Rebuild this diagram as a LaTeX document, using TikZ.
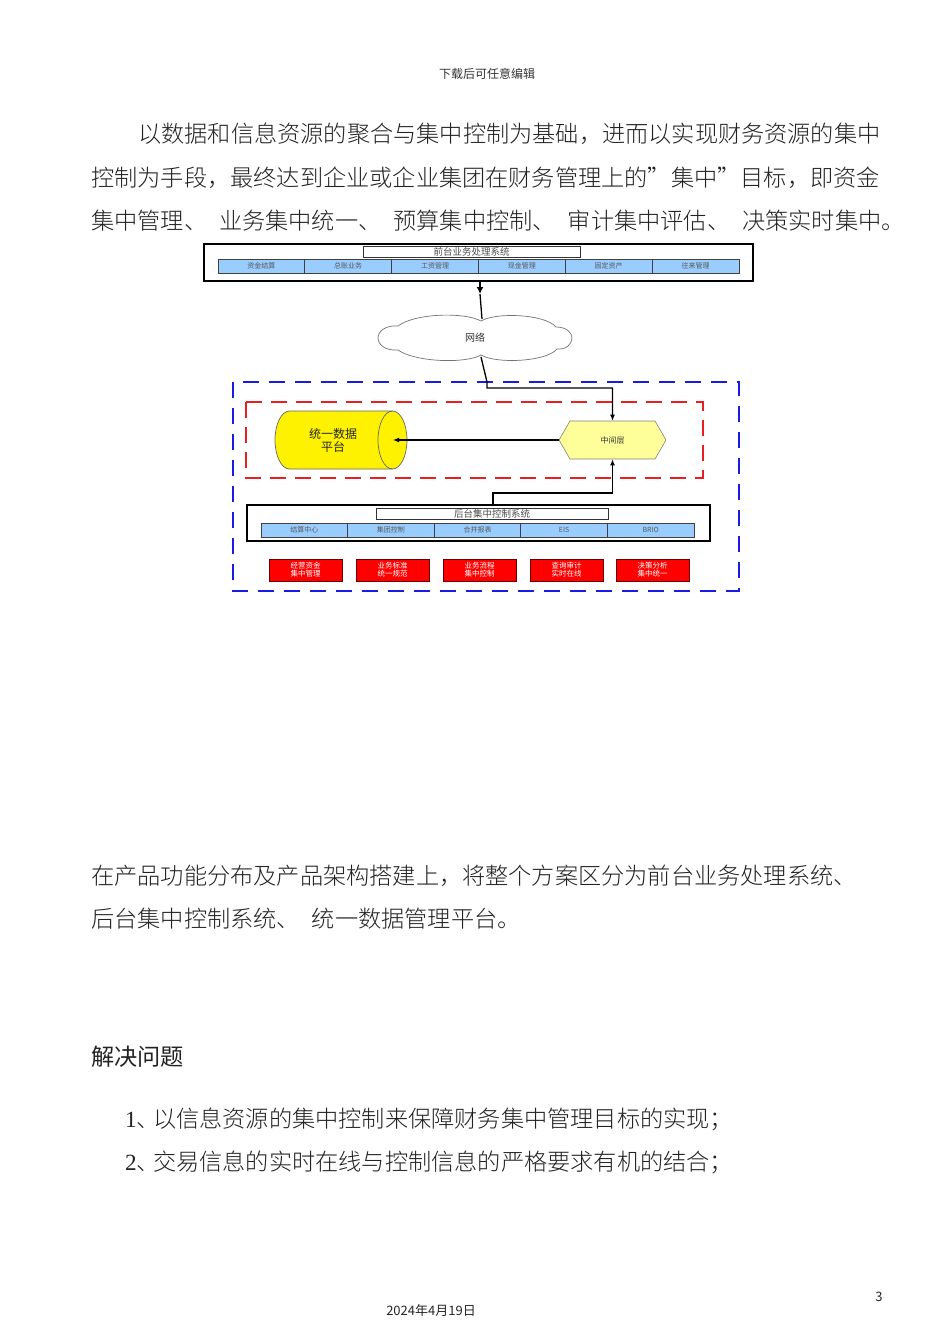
\documentclass[tikz,border=0pt]{standalone}
\usepackage{fontspec}
\setmainfont{Noto Sans CJK SC}
\newfontfamily\lightfont{Noto Sans CJK SC Light}
\newfontfamily\serifnum{Liberation Serif}
\usetikzlibrary{shapes.geometric,shapes.symbols,shapes.misc,arrows.meta}
\definecolor{cellblue}{HTML}{99CCFF}
\definecolor{hexfill}{HTML}{FFFF99}
\definecolor{bodytext}{HTML}{222222}
\definecolor{dashblue}{HTML}{1A1AE6}
\definecolor{dashred}{HTML}{E62020}
\begin{document}
\begin{tikzpicture}[x=1pt,y=-1pt,
  body/.style={anchor=west,inner sep=0,text=bodytext,font=\lightfont\fontsize{23.2}{23.2}\selectfont},
  cell/.style={draw=black!75,fill=cellblue,line width=0.7pt,minimum height=14pt,inner sep=0,text=black!65,font=\fontsize{7}{7}\selectfont},
  titlebox/.style={draw=black!80,fill=white,line width=0.6pt,minimum height=11pt,inner sep=0,text=black!70,font=\fontsize{9.5}{9.5}\selectfont},
  sysbox/.style={draw=black,line width=1.5pt,inner sep=0},
  redbox/.style={draw=black!60!red,fill=red,line width=0.6pt,minimum width=73pt,minimum height=22pt,inner sep=0,text=white,align=center,font=\fontsize{7.5}{8}\selectfont},
  conn/.style={draw=black,line width=1.3pt,-{Latex[length=6pt,width=5pt]}},
  plain/.style={draw=black,line width=1.3pt}
]
\useasboundingbox[fill=white] (0,0) rectangle (950,1344);

% header / footer
\node[inner sep=0,text=black!80,font=\fontsize{12}{12}\selectfont] (hdr) at (487,74) {下载后可任意编辑};
\node[inner sep=0,text=black!85,font=\fontsize{13}{13}\selectfont] (ftr) at (431,1311) {2024年4月19日};
\node[inner sep=0,text=black!85,font=\fontsize{13}{13}\selectfont] (pg) at (879,1297) {3};

% paragraph 1
\node[body] (p1) at (138,134) {以数据和信息资源的聚合与集中控制为基础，进而以实现财务资源的集中};
\node[body] (p2) at (91,178) {控制为手段，最终达到企业或企业集团在财务管理上的”集中”目标，即资金};
\node[body] (p3) at (91,221) {集中管理、\hspace{12pt}业务集中统一、\hspace{12pt}预算集中控制、\hspace{12pt}审计集中评估、\hspace{12pt}决策实时集中。};

% front system
\node[sysbox,minimum width=549pt,minimum height=37pt] (front) at (478.5,262.5) {};
\node[titlebox,minimum width=217pt] (ftitle) at (471.5,251.5) {前台业务处理系统};
\foreach \i/\t in {1/资金结算,2/总账业务,3/工资管理,4/现金管理,5/固定资产,6/往来管理}{
  \node[cell,minimum width=86.8pt] (f\i) at ({218+(\i-0.5)*86.83},266) {\t};
}

% network cloud
\node[inner sep=0,minimum width=193pt,minimum height=40pt] (cloud) at (475,338) {};
\draw[black!55,line width=0.7pt,fill=white]
  (378,338) .. controls (378,331) and (386,325) .. (398,326)
  .. controls (415,313) and (465,312) .. (481,321)
  .. controls (496,312) and (545,314) .. (556,327)
  .. controls (567,327) and (572,333) .. (572,338)
  .. controls (572,344) and (566,350) .. (557,349)
  .. controls (546,362) and (496,364) .. (481,355)
  .. controls (465,364) and (415,362) .. (398,350)
  .. controls (386,351) and (378,345) .. (378,338) -- cycle;
\node[inner sep=0,font=\fontsize{10}{10}\selectfont,text=black!80] (cloudlabel) at (cloud.center) {网络};
\coordinate (netin) at (480,294);
\coordinate (cloudtop) at (482,319);
\coordinate (cloudbot) at (481,357);
\draw[black,line width=2pt,-{Latex[length=7pt,width=7pt]}] (front.south -| netin) -- (netin);
\draw[plain] (netin) -- (cloudtop);

% dashed frames
\draw[dashblue,line width=1.6pt,dash pattern=on 16pt off 10pt] (233,382) rectangle (739,591);
\draw[dashred,line width=1.6pt,dash pattern=on 16pt off 9pt] (246,402) rectangle (703,478);

% unified data platform (horizontal cylinder)
\node[inner sep=0,minimum width=132pt,minimum height=58pt] (cyl) at (341,440) {};
\draw[black!60,fill=yellow,line width=0.7pt]
  (289.5,411) -- (392.5,411) arc[start angle=-90,end angle=90,x radius=14.5,y radius=29]
  -- (289.5,469) arc[start angle=90,end angle=270,x radius=14.5,y radius=29] -- cycle;
\draw[black!60,line width=0.7pt]
  (392.5,411) arc[start angle=270,end angle=90,x radius=14.5,y radius=29];
\node[inner sep=0,align=center,text=black!85,font=\fontsize{12}{13}\selectfont] (cyltext) at (333,440) {统一数据\\平台};
% middle layer
\node[signal,signal to=east and west,signal pointer angle=120,draw=black!50,fill=hexfill,line width=0.6pt,
      minimum width=107pt,minimum height=38pt,inner sep=0,font=\fontsize{8}{8}\selectfont,text=black!80] (mid) at (612.5,440) {中间层};

\coordinate (bend) at (487,388);
\coordinate (cylin) at (393,440);
\draw[conn] (cloudbot) -- (487,382) -- (bend) -| (mid.north);
\draw[conn] (mid.west) -- (cylin);

% back system
\node[sysbox,minimum width=463pt,minimum height=36pt] (back) at (478.5,523) {};
\node[titlebox,minimum width=232pt] (btitle) at (492,513.5) {后台集中控制系统};
\foreach \i/\t in {1/结算中心,2/集团控制,3/合并报表,4/EIS,5/BRIO}{
  \node[cell,minimum width=86.6pt] (b\i) at ({261+(\i-0.5)*86.6},530) {\t};
}
\coordinate (up) at (493,493);
\draw[conn] ([xshift=14.5pt]back.north) -- (up) -| (mid.south);

% red boxes
\node[redbox] (r1) at (305.5,570) {经营资金\\集中管理};
\node[redbox] (r2) at (392.5,570) {业务标准\\统一规范};
\node[redbox] (r3) at (479.5,570) {业务流程\\集中控制};
\node[redbox] (r4) at (566.5,570) {查询审计\\实时在线};
\node[redbox] (r5) at (652.5,570) {决策分析\\集中统一};

% lower text
\node[body] (q1) at (91,876) {在产品功能分布及产品架构搭建上，将整个方案区分为前台业务处理系统、};
\node[body] (q2) at (91,919) {后台集中控制系统、\hspace{12pt}统一数据管理平台。};
\node[body,font=\fontsize{23.2}{23.2}\selectfont] (sec) at (91,1057) {解决问题};
\node[body] (l1) at (125,1119) {{\serifnum 1}、\hspace{-7pt}以信息资源的集中控制来保障财务集中管理目标的实现；};
\node[body] (l2) at (125,1162) {{\serifnum 2}、\hspace{-7pt}交易信息的实时在线与控制信息的严格要求有机的结合；};
\end{tikzpicture}
\end{document}
